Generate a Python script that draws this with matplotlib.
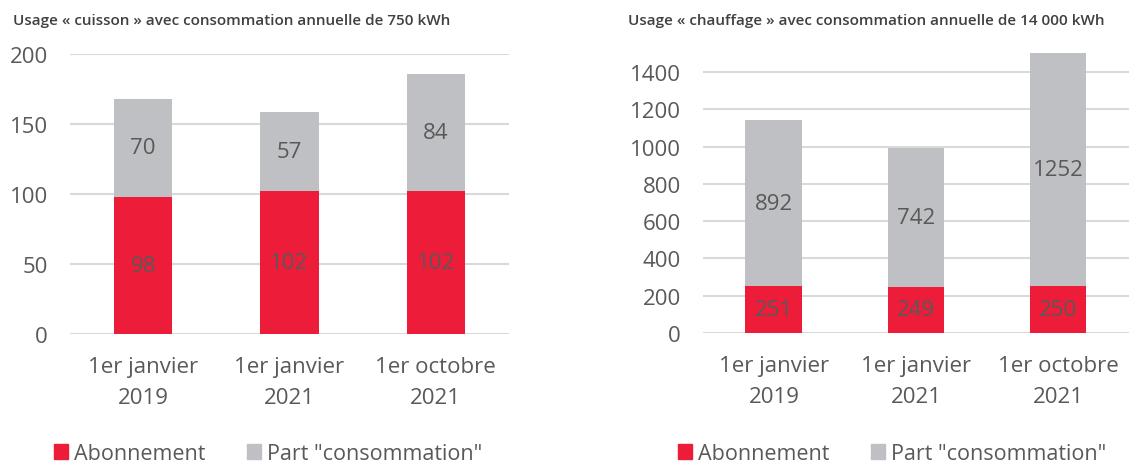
import numpy as np
import matplotlib
matplotlib.use("Agg")
import matplotlib.pyplot as plt
from matplotlib.patches import Patch

plt.rcParams['font.family'] = ['Open Sans', 'DejaVu Sans']

# Données
categories = ["1er janvier\n2019", "1er janvier\n2021", "1er octobre\n2021"]
cuisson_abo = [98, 102, 102]
cuisson_conso = [70, 57, 84]
chauffage_abo = [251, 249, 250]
chauffage_conso = [892, 742, 1252]
cuisson_ticks = [0, 50, 100, 150, 200]
chauffage_ticks = [0, 200, 400, 600, 800, 1000, 1200, 1400]

RED = "#ED1C39"
GREY = "#BFC0C4"
TXT = "#595959"
GRID = "#D9D9D9"

fig = plt.figure(figsize=(11.41, 4.64), dpi=100)
ax1 = fig.add_axes([0.0614, 0.278, 0.3847, 0.603])
ax2 = fig.add_axes([0.616, 0.280, 0.3735, 0.607])


def draw(ax, abo, conso, ticks, ymax, title, title_x, legend_x):
    x = np.arange(len(categories))
    b1 = ax.bar(x, abo, width=0.4, color=RED, zorder=3)
    b2 = ax.bar(x, conso, width=0.4, bottom=abo, color=GREY, zorder=3)
    for rect, v in zip(b1, abo):
        ax.text(rect.get_x() + rect.get_width() / 2, v / 2, str(v),
                ha="center", va="center", fontsize=16, color=TXT, zorder=4)
    for rect, a, v in zip(b2, abo, conso):
        ax.text(rect.get_x() + rect.get_width() / 2, a + v / 2, str(v),
                ha="center", va="center", fontsize=16, color=TXT, zorder=4)
    ax.set_xlim(-0.5, len(categories) - 0.5)
    ax.set_ylim(0, ymax)
    ax.set_yticks(ticks)
    ax.set_xticks(x)
    ax.set_xticklabels(categories, linespacing=1.6)
    ax.tick_params(axis="both", length=0, labelsize=16, labelcolor=TXT)
    ax.tick_params(axis="y", pad=16)
    ax.tick_params(axis="x", pad=16)
    ax.grid(axis="y", color=GRID, linewidth=1.5, zorder=0)
    for s in ax.spines.values():
        s.set_visible(False)
    fig.text(title_x, 1 - 21 / 464, title, fontsize=11, color="#404040",
             weight="semibold", ha="left", va="center")
    handles = [Patch(color=RED), Patch(color=GREY)]
    ax.legend(handles, ["Abonnement", 'Part "consommation"'], loc="center",
              bbox_to_anchor=(legend_x, 0.02), bbox_transform=fig.transFigure,
              ncol=2, frameon=False, fontsize=15.5, labelcolor=TXT,
              handlelength=0.65, handleheight=0.65, handletextpad=0.3,
              columnspacing=1.9, borderpad=0)


draw(ax1, cuisson_abo, cuisson_conso, cuisson_ticks, 200,
     "Usage « cuisson » avec consommation annuelle de 750 kWh", 13 / 1141,
     268 / 1141)
draw(ax2, chauffage_abo, chauffage_conso, chauffage_ticks, 1510,
     "Usage « chauffage » avec consommation annuelle de 14 000 kWh", 628 / 1141,
     892 / 1141)

fig.savefig("out.png", dpi=100)
